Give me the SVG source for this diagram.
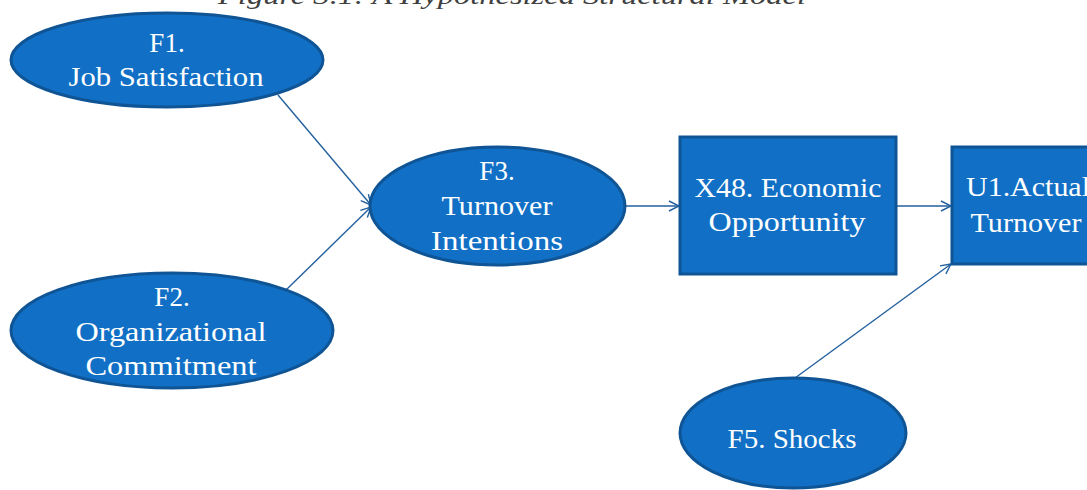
<svg xmlns="http://www.w3.org/2000/svg" width="1087" height="490" viewBox="0 0 1087 490">
<defs>
<style>
.node{fill:#1170c5;stroke:#0f5495;stroke-width:3}
.lbl{font-family:"Liberation Serif","DejaVu Serif",serif;font-size:27px;fill:#ffffff;text-anchor:middle}
.edge{stroke:#23609e;stroke-width:1.4;fill:none;marker-end:url(#arr)}
.title{font-family:"Liberation Serif","DejaVu Serif",serif;font-size:25px;font-style:italic;fill:#404040}
</style>
<marker id="arr" viewBox="0 0 12 12" refX="11" refY="6" markerWidth="12" markerHeight="12" markerUnits="userSpaceOnUse" orient="auto">
<path d="M1,1 L11,6 L1,11" fill="none" stroke="#23609e" stroke-width="1.4"/>
</marker>
</defs>
<rect width="1087" height="490" fill="#ffffff"/>
<text class="title" x="218" y="4" textLength="588" lengthAdjust="spacingAndGlyphs">Figure 3.1: A Hypothesized Structural Model</text>
<g id="connectors">
<line class="edge" x1="278" y1="95" x2="371" y2="205"/>
<line class="edge" x1="286" y1="290" x2="371" y2="207"/>
<line class="edge" x1="625" y1="206" x2="679" y2="206"/>
<line class="edge" x1="896" y1="206" x2="951" y2="206"/>
<line class="edge" x1="795" y1="378" x2="951" y2="264"/>
</g>
<g id="F1">
<ellipse class="node" cx="167" cy="60" rx="156" ry="47"/>
<text class="lbl" x="167" y="52">F1.</text>
<text class="lbl" x="166" y="86" textLength="195" lengthAdjust="spacingAndGlyphs">Job Satisfaction</text>
</g>
<g id="F2">
<ellipse class="node" cx="172" cy="330.5" rx="161" ry="57.5"/>
<text class="lbl" x="172" y="306">F2.</text>
<text class="lbl" x="171" y="341" textLength="191" lengthAdjust="spacingAndGlyphs">Organizational</text>
<text class="lbl" x="171" y="375" textLength="171" lengthAdjust="spacingAndGlyphs">Commitment</text>
</g>
<g id="F3">
<ellipse class="node" cx="497.5" cy="206" rx="127.5" ry="59"/>
<text class="lbl" x="497" y="180">F3.</text>
<text class="lbl" x="497" y="215" textLength="111" lengthAdjust="spacingAndGlyphs">Turnover</text>
<text class="lbl" x="497" y="250" textLength="132" lengthAdjust="spacingAndGlyphs">Intentions</text>
</g>
<g id="X48">
<rect class="node" x="680" y="137" width="216" height="137"/>
<text class="lbl" x="788" y="197" textLength="187" lengthAdjust="spacingAndGlyphs">X48. Economic</text>
<text class="lbl" x="787" y="231" textLength="157" lengthAdjust="spacingAndGlyphs">Opportunity</text>
</g>
<g id="U1">
<rect class="node" x="952" y="147" width="150" height="117"/>
<text class="lbl" x="1028" y="196" textLength="124" lengthAdjust="spacingAndGlyphs">U1.Actual</text>
<text class="lbl" x="1026" y="232" textLength="111" lengthAdjust="spacingAndGlyphs">Turnover</text>
</g>
<g id="F5">
<ellipse class="node" cx="793" cy="433" rx="113" ry="55"/>
<text class="lbl" x="792" y="448" textLength="129" lengthAdjust="spacingAndGlyphs">F5. Shocks</text>
</g>
</svg>
